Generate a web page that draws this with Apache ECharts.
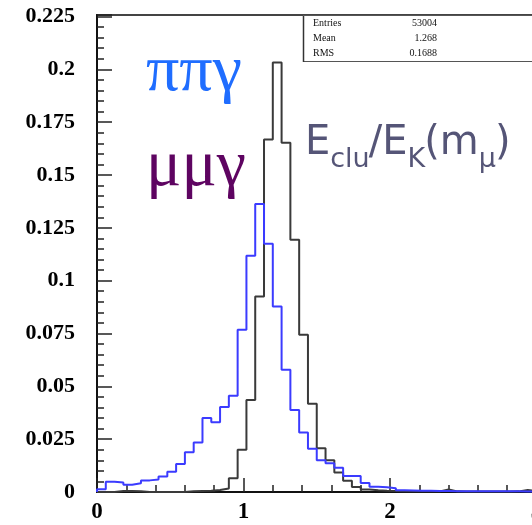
<!DOCTYPE html>
<html>
<head>
<meta charset="utf-8">
<script src="https://cdn.jsdelivr.net/npm/echarts@6/dist/echarts.min.js"></script>
<style>
html,body{margin:0;padding:0;background:#fff;}
#chart{width:532px;height:525px;}
</style>
</head>
<body>
<div id="chart"></div>
<script>
// Histogram: 50 bins of width 0.06 from 0 to 3
const binWidth = 0.06;
const xTickLabels = ['0', '1', '2', '3'];
// pi pi gamma (blue)
const pipigamma = [
  0.0013, 0.0049, 0.0045, 0.0034, 0.0041, 0.0055, 0.0059, 0.0073, 0.0096, 0.0133,
  0.0188, 0.0234, 0.0350, 0.0330, 0.0402, 0.0455, 0.0768, 0.1118, 0.1363, 0.1175,
  0.0878, 0.0578, 0.0388, 0.0282, 0.0205, 0.0150, 0.0136, 0.0115, 0.0076, 0.0076,
  0.0042, 0.0025, 0.0022, 0.0018, 0.0008, 0.0007, 0.0006, 0.0006, 0.0005, 0.0005,
  0.0004, 0.0004, 0.0004, 0.0003, 0.0003, 0.0003, 0.0003, 0.0003, 0.0002, 0.0002
];
// mu mu gamma (black)
const mumugamma = [
  0.0000, 0.0000, 0.0005, 0.0005, 0.0003, 0.0000, 0.0000, 0.0000, 0.0000, 0.0000,
  0.0003, 0.0005, 0.0006, 0.0009, 0.0017, 0.0065, 0.0200, 0.0435, 0.0925, 0.1668,
  0.2032, 0.1652, 0.1194, 0.0744, 0.0418, 0.0207, 0.0150, 0.0092, 0.0053, 0.0024,
  0.0012, 0.0008, 0.0006, 0.0005, 0.0004, 0.0004, 0.0003, 0.0003, 0.0003, 0.0012,
  0.0003, 0.0002, 0.0002, 0.0002, 0.0002, 0.0002, 0.0002, 0.0003, 0.0010, 0.0003
];
const statsLabels = ['Entries', 'Mean', 'RMS'];
const statsValues = ['53004', '1.268', '0.1688'];

function stepData(vals) {
  const d = [[0, 0]];
  vals.forEach((v, i) => d.push([+(i * binWidth).toFixed(4), v]));
  d.push([+(vals.length * binWidth).toFixed(4), vals[vals.length - 1]]);
  return d;
}

const chart = echarts.init(document.getElementById('chart'), null, {renderer: 'canvas'});

// measure text for the composite label
const mctx = document.createElement('canvas').getContext('2d');
function tw(txt, font) { mctx.font = font; return mctx.measureText(txt).width; }
const bigFont = '40px "DejaVu Sans"';
const subFont = '27px "DejaVu Sans"';
const labelParts = [
  {t: 'E', sub: false}, {t: 'clu', sub: true}, {t: '/E', sub: false},
  {t: 'K', sub: true}, {t: '(m', sub: false}, {t: 'μ', sub: true}, {t: ')', sub: false}
];
const labelColor = '#555577';
const labelGraphics = [];
let cx = 305;
const baseY = 164;
labelParts.forEach(p => {
  const font = p.sub ? subFont : bigFont;
  labelGraphics.push({
    type: 'text', x: cx, y: p.sub ? baseY + 9 : baseY,
    style: {text: p.t, fill: labelColor, font: font, verticalAlign: 'bottom'},
    z: 10
  });
  cx += tw(p.t, font) - (p.sub ? 1 : 0);
});

const statsGraphics = [
  {type: 'rect', shape: {x: 303.5, y: 15.5, width: 240, height: 46}, style: {fill: '#fff', stroke: '#555', lineWidth: 1}, z: 10},
  {type: 'line', shape: {x1: 303.5, y1: 16, x2: 303.5, y2: 62}, style: {stroke: '#333', lineWidth: 1.5}, z: 11}
];
statsLabels.forEach((l, i) => {
  statsGraphics.push({type: 'text', x: 313, y: 23 + i * 15, style: {text: l, fill: '#111', font: '10px "Liberation Serif"', verticalAlign: 'middle'}, z: 12});
  statsGraphics.push({type: 'text', x: 437, y: 23 + i * 15, style: {text: statsValues[i], fill: '#111', font: '10px "Liberation Serif"', align: 'right', verticalAlign: 'middle'}, z: 12});
});

const option = {
  animation: false,
  backgroundColor: '#fff',
  grid: {left: 97, top: 15, right: -4.5, bottom: 33, show: true, borderColor: '#444', borderWidth: 2,
    backgroundColor: 'transparent', outerBoundsMode: 'none', containLabel: false},
  xAxis: {
    type: 'value', min: 0, max: 3, interval: 1,
    axisLine: {show: true, onZero: false, lineStyle: {color: '#111', width: 2}},
    axisTick: {show: true, inside: true, length: 14, lineStyle: {color: '#222', width: 1.5}},
    minorTick: {show: true, splitNumber: 5, length: 7, lineStyle: {color: '#222', width: 1.5}},
    splitLine: {show: false},
    axisLabel: {margin: 9, color: '#000', fontFamily: 'Liberation Serif', fontWeight: 'bold', fontSize: 23,
      formatter: v => xTickLabels[Math.round(v)] ?? String(v)}
  },
  yAxis: {
    type: 'value', min: 0, max: 0.2257, interval: 0.025,
    axisLine: {show: true, lineStyle: {color: '#111', width: 2}},
    axisTick: {show: true, inside: true, length: 15, lineStyle: {color: '#222', width: 1.5}},
    minorTick: {show: true, splitNumber: 5, length: 7, lineStyle: {color: '#222', width: 1.5}},
    splitLine: {show: false},
    axisLabel: {margin: 22, color: '#000', fontFamily: 'Liberation Serif', fontWeight: 'bold', fontSize: 22, showMaxLabel: false,
      formatter: v => (Math.abs(v - 0.2257) < 1e-6 ? '' : String(+v.toFixed(3)))}
  },
  series: [
    {type: 'line', name: 'μμγ', step: 'end', symbol: 'none', data: stepData(mumugamma),
      lineStyle: {color: '#3a3a3a', width: 2}, z: 2},
    {type: 'line', name: 'ππγ', step: 'end', symbol: 'none', data: stepData(pipigamma),
      lineStyle: {color: '#3b3bff', width: 2}, z: 3}
  ],
  graphic: [
    {type: 'text', x: 146, y: 40, style: {text: 'ππγ', fill: '#1f6dff', font: '66px "Liberation Serif"'}, z: 10},
    {type: 'text', x: 146, y: 135, style: {text: 'μμγ', fill: '#5e0461', font: '66px "Liberation Serif"'}, z: 10}
  ].concat(labelGraphics).concat(statsGraphics)
};
chart.setOption(option);
</script>
</body>
</html>
